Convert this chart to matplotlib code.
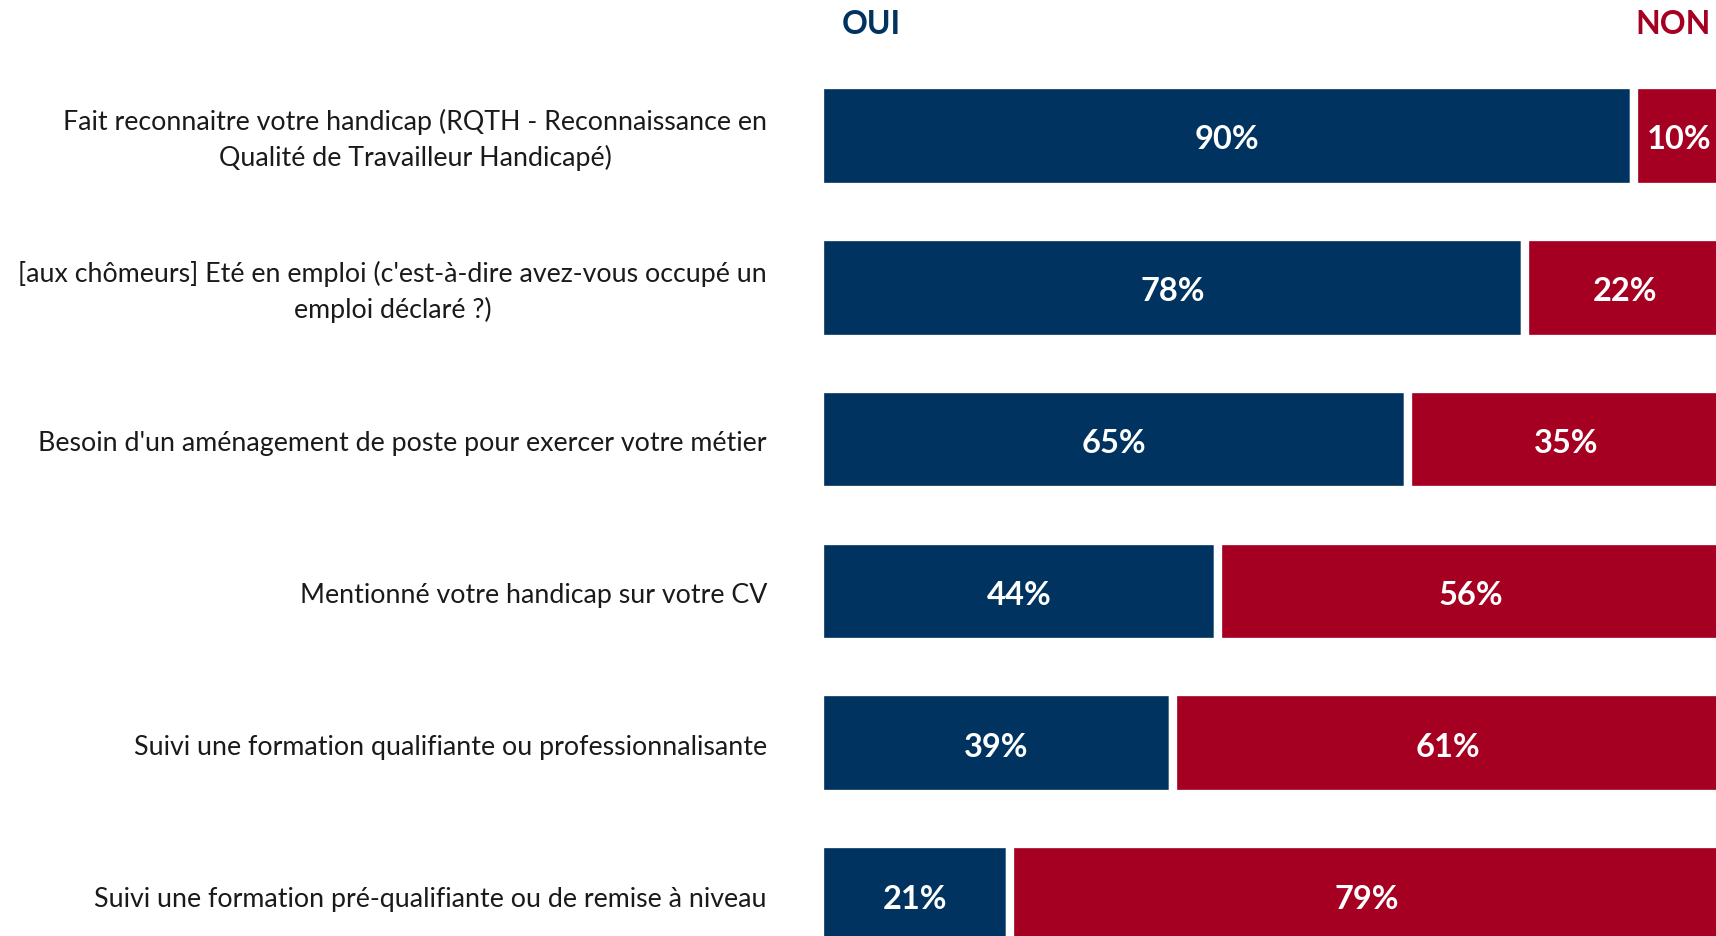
import matplotlib.pyplot as plt
import matplotlib.transforms as mtransforms

categories = [
    "Fait reconnaitre votre handicap (RQTH - Reconnaissance en\nQualité de Travailleur Handicapé)",
    "[aux chômeurs] Eté en emploi (c'est-à-dire avez-vous occupé un\nemploi déclaré ?)",
    "Besoin d'un aménagement de poste pour exercer votre métier",
    "Mentionné votre handicap sur votre CV",
    "Suivi une formation qualifiante ou professionnalisante",
    "Suivi une formation pré-qualifiante ou de remise à niveau",
]
oui = [90, 78, 65, 44, 39, 21]
non = [10, 22, 35, 56, 61, 79]

navy = "#00335F"
red = "#A50021"

plt.rcParams['font.family'] = ['Lato', 'DejaVu Sans']

W, H = 1716, 937
fig = plt.figure(figsize=(W / 100, H / 100), dpi=100)

# axes starts at the bar origin and runs a bit past the right edge (chart is cropped there)
x0, x100 = 820, 1724
ax = fig.add_axes([x0 / W, 0, (x100 - x0) / W, 876 / H])

ypos = list(range(len(categories)))
ax.barh(ypos, oui, height=0.67, color=navy, edgecolor="white", linewidth=6)
ax.barh(ypos, non, left=oui, height=0.67, color=red, edgecolor="white", linewidth=6)

ax.set_xlim(0, 100)
ax.set_ylim(5.27, -0.5)
ax.axis("off")

for y, a, b in zip(ypos, oui, non):
    ax.text(a / 2, y + 0.02, f"{a}%", ha="center", va="center", color="white",
            fontsize=23.5, fontweight="bold")
    ax.text(a + b / 2, y + 0.02, f"{b}%", ha="center", va="center", color="white",
            fontsize=23.5, fontweight="bold")

# category labels, right aligned left of bars
trans = mtransforms.blended_transform_factory(fig.transFigure, ax.transData)
for y, lab in zip(ypos, categories):
    ax.text(767 / W, y + 0.02, lab, transform=trans, ha="right", va="center",
            multialignment="center", fontsize=19.3, color="#1a1a1a",
            linespacing=1.45, clip_on=False)

fig.text(871 / W, 1 - 24 / H, "OUI", ha="center", va="center",
         fontsize=23, fontweight="bold", color=navy)
fig.text(1673 / W, 1 - 24 / H, "NON", ha="center", va="center",
         fontsize=23, fontweight="bold", color=red)

fig.savefig("out.png", dpi=100)
